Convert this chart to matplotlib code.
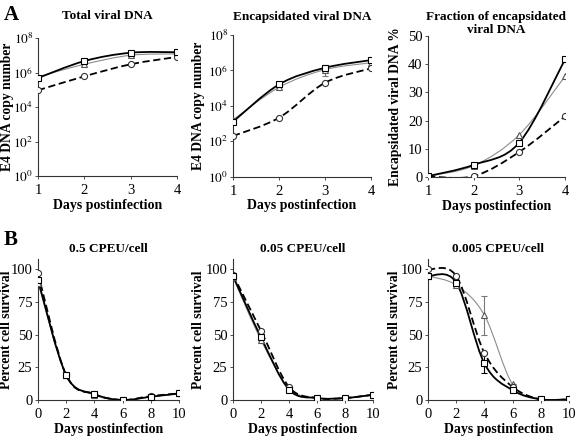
import numpy as np
import matplotlib
matplotlib.use("Agg")
import matplotlib.pyplot as plt
from matplotlib.path import Path
from matplotlib.patches import PathPatch

plt.rcParams['font.family'] = ['Liberation Serif', 'DejaVu Serif']
plt.rcParams['mathtext.fontset'] = 'stix'

# ---------------- data ----------------
days_a = [1, 2, 3, 4]
total_sq = [4.8e5, 4.6e6, 1.4e7, 1.5e7]
total_tri = [5.6e5, 3.0e6, 1.0e7, 1.2e7]
total_ci = [9.3e4, 6.0e5, 3.0e6, 8.0e6]

encap_sq = [1.25e3, 1.6e5, 1.4e6, 3.8e6]
encap_tri = [1.6e3, 1.1e5, 1.1e6, 2.7e6]
encap_tri_err_lo = [0, 0, 6.3e5, 1.2e6]
encap_tri_err_hi = [0, 0, 1.0e6, 2.0e6]
encap_ci = [1.95e2, 2.1e3, 2.0e5, 1.3e6]

frac_sq = [0.3, 4.3, 12.2, 41.7]
frac_tri = [0.3, 4.0, 15.0, 35.7]
frac_ci = [0.2, 0.3, 8.9, 21.5]

days_b = [0, 2, 4, 6, 8, 10]
s05_sq = [92, 19, 4.5, 0, 2.5, 5]
s05_tri = [90, 19, 4, 0, 2.5, 5]
s05_ci = [97, 19, 4.5, 0, 3, 5]

s005_sq = [95, 48, 8, 1.5, 1.5, 4]
s005_tri = [94, 46, 9, 1.5, 1.5, 4]
s005_ci = [96, 53, 10, 1.5, 1.5, 4]

s0005_sq = [95, 90, 28, 7.5, 0.5, 0.5]
s0005_sq_err = [0, 0, 7, 0, 0, 0]
s0005_tri = [95, 88, 65, 12, 0.5, 0.5]
s0005_tri_err = [0, 0, 15, 0, 0, 0]
s0005_ci = [100, 95, 36, 10, 0.5, 0.5]

titles_a = ["Total viral DNA", "Encapsidated viral DNA", "Fraction of encapsidated\nviral DNA"]
titles_b = ["0.5 CPEU/cell", "0.05 CPEU/cell", "0.005 CPEU/cell"]

GRAY = '#8c8c8c'


def smooth_path(x, y, logy=False):
    x = np.asarray(x, float)
    y = np.asarray(y, float)
    yy = np.log10(y) if logy else y
    n = len(x)
    verts = [(x[0], yy[0])]
    codes = [Path.MOVETO]
    for i in range(n - 1):
        p0 = np.array([x[max(i - 1, 0)], yy[max(i - 1, 0)]])
        p1 = np.array([x[i], yy[i]])
        p2 = np.array([x[i + 1], yy[i + 1]])
        p3 = np.array([x[min(i + 2, n - 1)], yy[min(i + 2, n - 1)]])
        c1 = p1 + (p2 - p0) / 6.0
        c2 = p2 - (p3 - p1) / 6.0
        verts += [tuple(c1), tuple(c2), tuple(p2)]
        codes += [Path.CURVE4] * 3
    verts = np.array(verts)
    if logy:
        verts[:, 1] = 10 ** verts[:, 1]
    return Path(verts, codes)


def series(ax, x, y, kind, logy=False, yerr=None):
    if kind == 'sq':
        lw, color, ls, mk, mec = 1.3, 'black', '-', 's', 'black'
    elif kind == 'tri':
        lw, color, ls, mk, mec = 0.8, GRAY, '-', '^', '#555555'
    else:
        lw, color, ls, mk, mec = 1.3, 'black', (0, (4, 2)), 'o', '#333333'
    patch = PathPatch(smooth_path(x, y, logy), facecolor='none', edgecolor=color,
                      lw=lw, linestyle=ls, zorder=2)
    ax.add_patch(patch)
    if yerr is not None:
        ax.errorbar(x, y, yerr=yerr, fmt='none', ecolor=color if kind != 'tri' else '#777777',
                    elinewidth=0.8, capsize=2.5, capthick=0.8, zorder=2.5)
    ax.plot(x, y, linestyle='none', marker=mk, markersize=4.4, markerfacecolor='white',
            markeredgecolor=mec, markeredgewidth=0.8, zorder=3)


def style(ax):
    for s in ['top', 'right']:
        ax.spines[s].set_visible(False)
    for s in ['left', 'bottom']:
        ax.spines[s].set_linewidth(0.8)
        ax.spines[s].set_color('#333333')
    ax.tick_params(axis='both', which='both', length=2, width=0.6, labelsize=10.5, pad=2,
                   color='#333333')
    ax.tick_params(axis='x', pad=4)
    ax.tick_params(axis='y', which='minor', length=0)


fig = plt.figure(figsize=(5.77, 4.37), dpi=100)
W, H = 577.0, 437.0


def axes_px(l, r, t, b):
    return fig.add_axes([l / W, 1 - b / H, (r - l) / W, (b - t) / H])


YL = 9.8

# ----- Row A -----
ax1 = axes_px(38, 177, 38, 176)
ax2 = axes_px(233, 371, 35, 176.5)
ax3 = axes_px(428, 565, 36, 177)

for ax, sq, tri, ci, title in [(ax1, total_sq, total_tri, total_ci, titles_a[0]),
                               (ax2, encap_sq, encap_tri, encap_ci, titles_a[1])]:
    ax.set_yscale('log')
    ax.set_ylim(1, 1e8)
    ax.set_xlim(1, 4)
    if ax is ax2:
        err = [np.array(encap_tri_err_lo), np.array(encap_tri_err_hi)]
        series(ax, days_a, tri, 'tri', logy=True, yerr=err)
    else:
        series(ax, days_a, tri, 'tri', logy=True)
    series(ax, days_a, ci, 'ci', logy=True)
    series(ax, days_a, sq, 'sq', logy=True)
    ax.set_yticks([1, 1e2, 1e4, 1e6, 1e8])
    ax.set_yticklabels([r'$10^{%d}$' % e for e in [0, 2, 4, 6, 8]])
    ax.yaxis.set_minor_locator(matplotlib.ticker.NullLocator())
    ax.set_xticks(days_a)
    ax.set_ylabel('E4 DNA copy number', fontsize=YL, fontweight='bold')
    ax.set_xlabel('Days postinfection', fontsize=10, fontweight='bold', labelpad=1)
    ax.set_title(title, fontsize=9.5, fontweight='bold', pad=14 if ax is ax1 else 11)
    style(ax)
    ax.tick_params(axis='y', labelsize=9.5, pad=1.5)

ax3.set_ylim(0, 50)
ax3.set_xlim(1, 4)
series(ax3, days_a, frac_tri, 'tri')
series(ax3, days_a, frac_ci, 'ci')
series(ax3, days_a, frac_sq, 'sq')
ax3.set_yticks([0, 10, 20, 30, 40, 50])
ax3.set_xticks(days_a)
ax3.set_ylabel('Encapsidated viral DNA %', fontsize=YL, fontweight='bold')
ax3.set_xlabel('Days postinfection', fontsize=10, fontweight='bold', labelpad=1)
ax3.set_title(titles_a[2], fontsize=9.5, fontweight='bold', pad=2, linespacing=1.15)
style(ax3)

# ----- Row B -----
bx1 = axes_px(38, 179, 259, 400)
bx2 = axes_px(233, 373, 259, 400)
bx3 = axes_px(428, 569, 259, 400)
data_b = [(s05_sq, s05_tri, s05_ci), (s005_sq, s005_tri, s005_ci), (s0005_sq, s0005_tri, s0005_ci)]
for i, (ax, (sq, tri, ci)) in enumerate(zip([bx1, bx2, bx3], data_b)):
    ax.set_ylim(0, 108)
    ax.set_xlim(0, 10)
    if i == 2:
        series(ax, days_b, tri, 'tri', yerr=s0005_tri_err)
        series(ax, days_b, ci, 'ci')
        series(ax, days_b, sq, 'sq', yerr=s0005_sq_err)
    else:
        series(ax, days_b, tri, 'tri')
        series(ax, days_b, ci, 'ci')
        series(ax, days_b, sq, 'sq')
    ax.set_yticks([0, 25, 50, 75, 100])
    ax.set_xticks(days_b)
    ax.set_ylabel('Percent cell survival', fontsize=YL, fontweight='bold')
    ax.set_xlabel('Days postinfection', fontsize=10, fontweight='bold', labelpad=1)
    ax.set_title(titles_b[i], fontsize=9.5, fontweight='bold', pad=5)
    style(ax)

# y-label positions (pixel x of label's right edge)
for ax, xp, l, r in [(ax1, 14, 38, 177), (ax2, 205, 233, 371), (ax3, 402, 428, 565),
                     (bx1, 13, 38, 179), (bx2, 205, 233, 373), (bx3, 401, 428, 569)]:
    ax.yaxis.set_label_coords((xp - l) / (r - l), 0.5)

fig.text(4 / W, 1 - 15 / H, 'A', fontsize=15, fontweight='bold', va='center', ha='left')
fig.text(4 / W, 1 - 240 / H, 'B', fontsize=15, fontweight='bold', va='center', ha='left')

fig.savefig('out.png', dpi=100)
